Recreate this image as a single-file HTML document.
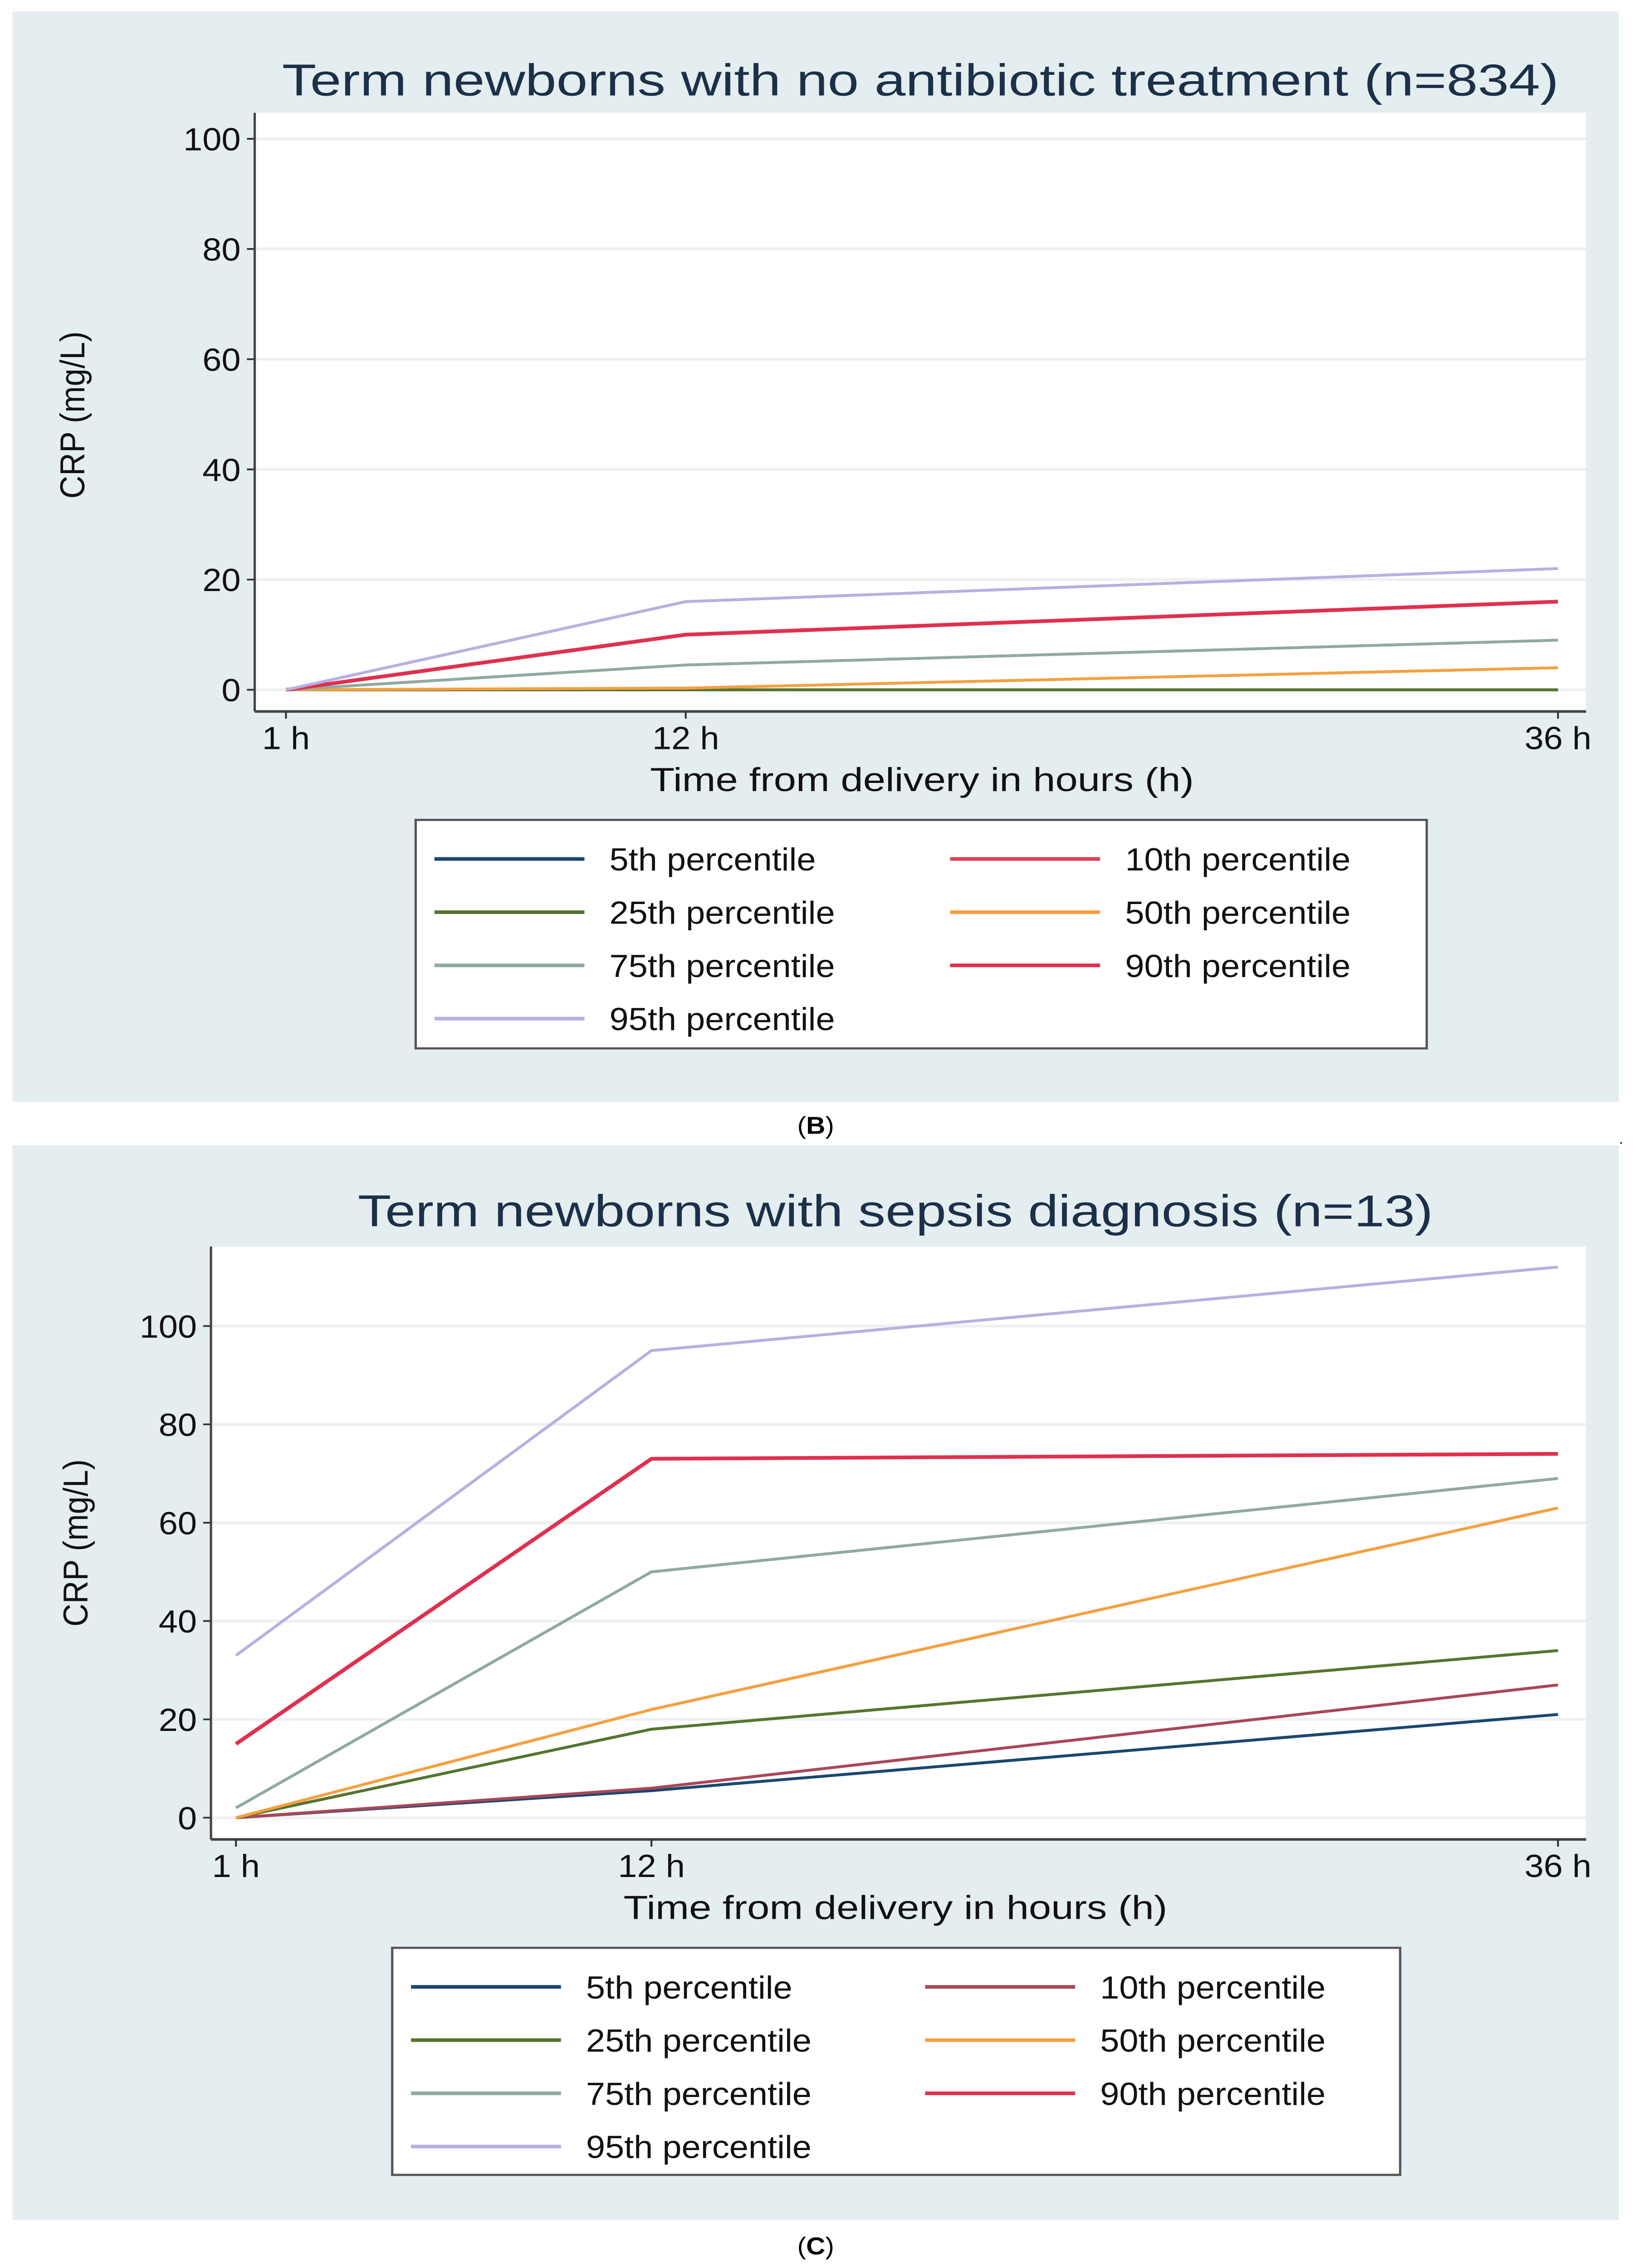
<!DOCTYPE html>
<html><head><meta charset="utf-8"><style>
html,body{margin:0;padding:0;background:#fff;width:100%;height:100%;overflow:hidden;}
svg{display:block;width:100vw;height:100vh;}
text{font-family:"Liberation Sans",sans-serif;}
</style></head><body>
<svg id="fig" viewBox="0 0 1045 1568.4" preserveAspectRatio="none" xmlns="http://www.w3.org/2000/svg">
<g id="panelB"></g>
<g id="panelC"></g>
<text x="522" y="784" text-anchor="middle" font-family="Liberation Serif" font-size="17">(<tspan font-weight="bold">B</tspan>)</text>
<text x="522" y="1559" text-anchor="middle" font-family="Liberation Serif" font-size="17">(<tspan font-weight="bold">C</tspan>)</text>
<text x="1036" y="791" font-size="10">.</text>
</svg>
<script>
const hours = [1, 12, 36];
const xTickLabels = ["1 h", "12 h", "36 h"];
const seriesNames = ["5th percentile","10th percentile","25th percentile","50th percentile","75th percentile","90th percentile","95th percentile"];
const yTicks = [0, 20, 40, 60, 80, 100];
// Panel B values
const b_p5  = [0, 0, 0];
const b_p10 = [0, 0, 0];
const b_p25 = [0, 0, 0];
const b_p50 = [0, 0.3, 4];
const b_p75 = [0, 4.5, 9];
const b_p90 = [0, 10, 16];
const b_p95 = [0, 16, 22];
// Panel C values
const c_p5  = [0, 5.5, 21];
const c_p10 = [0, 6, 27];
const c_p25 = [0, 18, 34];
const c_p50 = [0, 22, 63];
const c_p75 = [2, 50, 69];
const c_p90 = [15, 73, 74];
const c_p95 = [33, 95, 112];

const NS = "http://www.w3.org/2000/svg";
function mk(parent, tag, attrs, txt){
  const e = document.createElementNS(NS, tag);
  for (const k in attrs) e.setAttribute(k, attrs[k]);
  if (txt !== undefined) e.textContent = txt;
  parent.appendChild(e);
  return e;
}

function drawPanel(g, cfg, series, colors, key){
  const bg = mk(g,'rect',{x:8,y:cfg.top,width:1028,height:cfg.bottom-cfg.top,fill:'#e4edf0'});
  
  
  const plot = mk(g,'rect',{x:cfg.px0,y:cfg.py0,width:1015-cfg.px0,height:cfg.py1-cfg.py0,fill:'#ffffff'});
  
  
  const X = h => cfg.x1 + (h-1)*(cfg.x36-cfg.x1)/35;
  const Y = v => cfg.y0 - v*(cfg.y0-cfg.y100)/100;
  const t = mk(g,'text',{x:cfg.titleX,y:cfg.titleY,'text-anchor':'middle','font-size':31,fill:'#1c3048',textLength:cfg.titleLen,lengthAdjust:'spacingAndGlyphs'}, cfg.title);
  
  
  yTicks.forEach(v=>{
    const gl = mk(g,'line',{x1:cfg.px0,x2:1015,y1:Y(v),y2:Y(v),stroke:'#eef1f2','stroke-width':2});
    
    
    const tk = mk(g,'line',{x1:cfg.px0-5,x2:cfg.px0,y1:Y(v),y2:Y(v),stroke:'#333','stroke-width':1.2});
    
    
    const tl = mk(g,'text',{x:cfg.px0-9,y:Y(v)+8,'text-anchor':'end','font-size':22,fill:'#111'}, String(v));
    
    
  });
  const ya = mk(g,'line',{x1:cfg.px0,x2:cfg.px0,y1:cfg.py0,y2:cfg.py1,stroke:'#444','stroke-width':1.5});
  
  
  const xa = mk(g,'line',{x1:cfg.px0,x2:1015,y1:cfg.py1,y2:cfg.py1,stroke:'#444','stroke-width':1.8});
  
  
  hours.forEach((h,i)=>{
    const tk = mk(g,'line',{x1:X(h),x2:X(h),y1:cfg.py1,y2:cfg.py1+5,stroke:'#333','stroke-width':1.2});
    
    
    const tl = mk(g,'text',{x:X(h),y:cfg.py1+26,'text-anchor':'middle','font-size':22,fill:'#111'}, xTickLabels[i]);
    
    
  });
  const xt = mk(g,'text',{x:cfg.xTitleX,y:cfg.py1+55,'text-anchor':'middle','font-size':23,fill:'#111',textLength:348,lengthAdjust:'spacingAndGlyphs'}, 'Time from delivery in hours (h)');
  
  
  const yt = mk(g,'text',{x:0,y:0,'text-anchor':'middle','font-size':22,fill:'#111',transform:`translate(${cfg.yTitleX},${cfg.yTitleY}) rotate(-90)`}, 'CRP (mg/L)');
  
  
  series.forEach((vals,si)=>{
    const pts = hours.map((h,i)=>X(h)+','+Y(vals[i])).join(' ');
    const pl = mk(g,'polyline',{points:pts,fill:'none',stroke:colors[si],'stroke-width':si===5?2.6:2,'stroke-linejoin':'round'});
    
    
  });
  const lg = mk(g,'rect',{x:cfg.lx,y:cfg.ly,width:cfg.lw,height:cfg.lh,fill:'#fff',stroke:'#555','stroke-width':1.5});
  
  
  seriesNames.forEach((nm,si)=>{
    const col = si%2, row = Math.floor(si/2);
    const ry = cfg.ly + 27 + row*36.8;
    const lx0 = cfg.lx + 12 + col*cfg.colGap;
    const sw = mk(g,'line',{x1:lx0,x2:lx0+96,y1:ry,y2:ry,stroke:colors[si],'stroke-width':2.5});
    
    
    const tx = mk(g,'text',{x:lx0+112,y:ry+8,'font-size':22,fill:'#111'}, nm);
    
    
  });
}

const colorsB = ['#1a476f','#d8405a','#55752f','#f5a040','#90aaa0','#e0304f','#b8b0e0'];
const colorsC = ['#1a476f','#a84858','#55752f','#f5a040','#90aaa0','#e0304f','#b8b0e0'];

drawPanel(document.getElementById('panelB'),
  {top:8,bottom:762,px0:163,py0:78,py1:492,x1:183,x36:997,y0:477,y100:96,
   title:'Term newborns with no antibiotic treatment (n=834)',titleX:589,titleY:66,titleLen:817,
   xTitleX:590,yTitleX:54,yTitleY:287,lx:266,ly:567,lw:647,lh:158,colGap:330},
  [b_p5,b_p10,b_p25,b_p50,b_p75,b_p90,b_p95], colorsB, 'chart-b');

drawPanel(document.getElementById('panelC'),
  {top:792,bottom:1535,px0:135,py0:862,py1:1272,x1:151,x36:997,y0:1257,y100:917,
   title:'Term newborns with sepsis diagnosis (n=13)',titleX:573,titleY:848,titleLen:688,
   xTitleX:573,yTitleX:56,yTitleY:1067,lx:251,ly:1347,lw:645,lh:157,colGap:329},
  [c_p5,c_p10,c_p25,c_p50,c_p75,c_p90,c_p95], colorsC, 'chart-c');
</script>
</body></html>
